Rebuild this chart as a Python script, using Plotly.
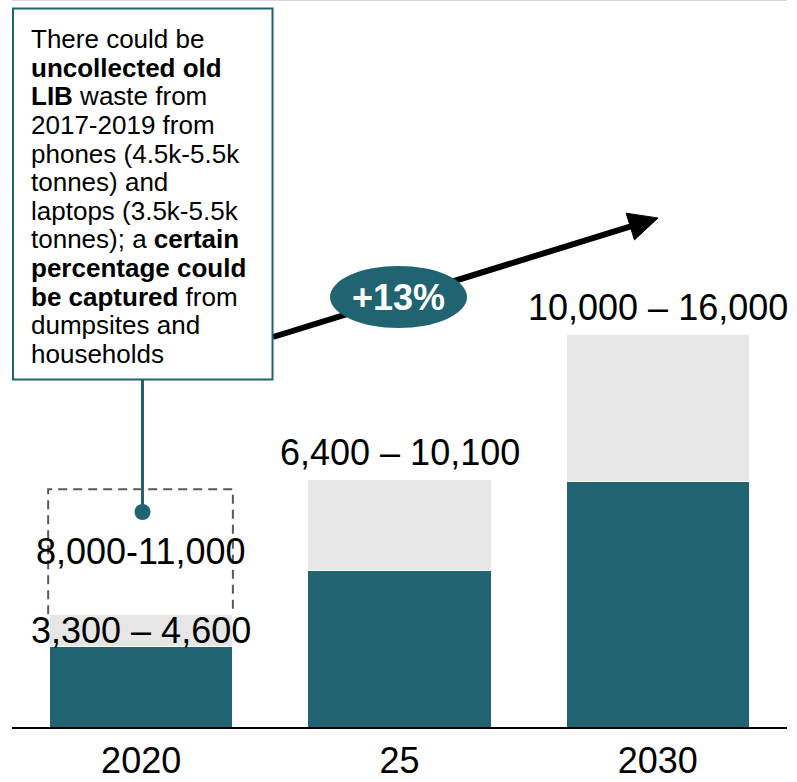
import plotly.graph_objects as go

# Projected LIB waste ranges (tonnes)
years = ["2020", "25", "2030"]
low_vals = [3300, 6400, 10000]
high_vals = [4600, 10100, 16000]
range_labels = ["3,300 – 4,600", "6,400 – 10,100", "10,000 – 16,000"]
label_shift = [-16, 27, 27]

# Potential additional backlog for 2020
backlog_label = "8,000-11,000"
backlog_top = 9700
growth_label = "+13%"

note_lines = [
    "There could be",
    "<b>uncollected old</b>",
    "<b>LIB</b> waste from",
    "2017-2019 from",
    "phones (4.5k-5.5k",
    "tonnes) and",
    "laptops (3.5k-5.5k",
    "tonnes); a <b>certain</b>",
    "<b>percentage could</b>",
    "<b>be captured</b> from",
    "dumpsites and",
    "households",
]

TEAL = "#1F6470"
GREY = "#E6E6E6"
FONT = "Liberation Sans, Arial, sans-serif"

W, H = 797, 782
ML, MR, MT, MB = 12, 10, 0, 55
PW, PH = W - ML - MR, H - MT - MB
Y_MAX = 29670


def px(x):
    return (x - ML) / PW


def py(y):
    return (PH + MT - y) / PH


fig = go.Figure()
fig.add_bar(
    x=years, y=low_vals, marker=dict(color=TEAL, line=dict(color="white", width=1)),
    width=0.71, hoverinfo="skip",
)
fig.add_bar(
    x=years, y=[h - l for h, l in zip(high_vals, low_vals)],
    marker=dict(color=GREY, line=dict(color="white", width=1)),
    width=0.71, hoverinfo="skip",
)

annotations = []
# category positions are given by index on the category axis
for i, (hi, txt, sh) in enumerate(zip(high_vals, range_labels, label_shift)):
    annotations.append(dict(
        x=i, y=hi, xref="x", yref="y", text=txt, showarrow=False,
        yshift=sh, font=dict(size=36, color="black", family=FONT),
        xanchor="center", yanchor="middle",
    ))

annotations.append(dict(
    x=0, y=high_vals[0], xref="x", yref="y", text=backlog_label,
    showarrow=False, yshift=63, font=dict(size=36, color="black", family=FONT),
    xanchor="center", yanchor="middle",
))

# Growth bubble text
annotations.append(dict(
    x=px(398.5), y=py(297.4), xref="paper", yref="paper", text=f"<b>{growth_label}</b>",
    showarrow=False, font=dict(size=36, color="white", family=FONT),
    xanchor="center", yanchor="middle",
))

# Callout text, one line at a time for tight leading
for i, line in enumerate(note_lines):
    base = 48.3 + i * 28.6
    annotations.append(dict(
        x=px(29), y=py(base - 9.1), xref="paper", yref="paper", text=line,
        showarrow=False, font=dict(size=26, color="black", family=FONT),
        xanchor="left", yanchor="middle", align="left",
    ))

shapes = []
# top rule
shapes.append(dict(type="line", xref="paper", yref="paper", x0=0, x1=1, y0=1, y1=1,
                   line=dict(color="#D9D9D9", width=2)))

# growth arrow
tail = (273.0, 337.0)
tip = (658.0, 218.0)
dx, dy = tip[0] - tail[0], tip[1] - tail[1]
n = (dx ** 2 + dy ** 2) ** 0.5
ux, uy = dx / n, dy / n
nx, ny = -uy, ux
head_len, head_half = 29.0, 14.0
bx, by = tip[0] - head_len * ux, tip[1] - head_len * uy
shapes.append(dict(type="line", xref="paper", yref="paper",
                   x0=px(tail[0]), y0=py(tail[1]), x1=px(bx + 3 * ux), y1=py(by + 3 * uy),
                   line=dict(color="black", width=6)))
c1 = (bx + head_half * nx, by + head_half * ny)
c2 = (bx - head_half * nx, by - head_half * ny)
shapes.append(dict(
    type="path", xref="paper", yref="paper",
    path=f"M {px(tip[0])},{py(tip[1])} L {px(c1[0])},{py(c1[1])} L {px(c2[0])},{py(c2[1])} Z",
    fillcolor="black", line=dict(color="black", width=1),
))

# growth bubble
shapes.append(dict(type="circle", xref="paper", yref="paper",
                   x0=px(330), x1=px(467), y0=py(328), y1=py(266),
                   fillcolor=TEAL, line=dict(width=0)))

# callout box
shapes.append(dict(type="rect", xref="paper", yref="paper",
                   x0=px(13), x1=px(272.5), y0=py(379.5), y1=py(8.5),
                   fillcolor="white", line=dict(color=TEAL, width=2)))

# connector from the callout to the backlog bracket
shapes.append(dict(type="line", xref="paper", yref="paper",
                   x0=px(142.5), x1=px(142.5), y0=py(380), y1=py(512),
                   line=dict(color=TEAL, width=3)))
shapes.append(dict(type="circle", xref="paper", yref="paper",
                   x0=px(134.5), x1=px(150.5), y0=py(520), y1=py(504),
                   fillcolor=TEAL, line=dict(width=0)))

# dashed bracket for the 2020 backlog
shapes.append(dict(
    type="path", xref="x", yref="y",
    path=f"M -0.36,{high_vals[0]} L -0.36,{backlog_top} L 0.355,{backlog_top} L 0.355,{high_vals[0]}",
    line=dict(color="#595959", width=2, dash="9px,6px"),
))

fig.update_layout(
    width=W, height=H,
    margin=dict(l=ML, r=MR, t=MT, b=MB, autoexpand=False),
    barmode="stack", showlegend=False,
    plot_bgcolor="white", paper_bgcolor="white",
    font=dict(family=FONT, color="black"),
    annotations=annotations, shapes=shapes,
    xaxis=dict(
        type="category", range=[-0.5, 2.5], showline=True, linecolor="black",
        linewidth=2, showgrid=False, zeroline=False, ticks="",
        ticklabelstandoff=1,
        tickfont=dict(size=36, color="black", family=FONT), fixedrange=True,
    ),
    yaxis=dict(range=[0, Y_MAX], visible=False, showgrid=False, zeroline=False,
               fixedrange=True),
)

fig.write_html("out.html", config={"displayModeBar": False})
